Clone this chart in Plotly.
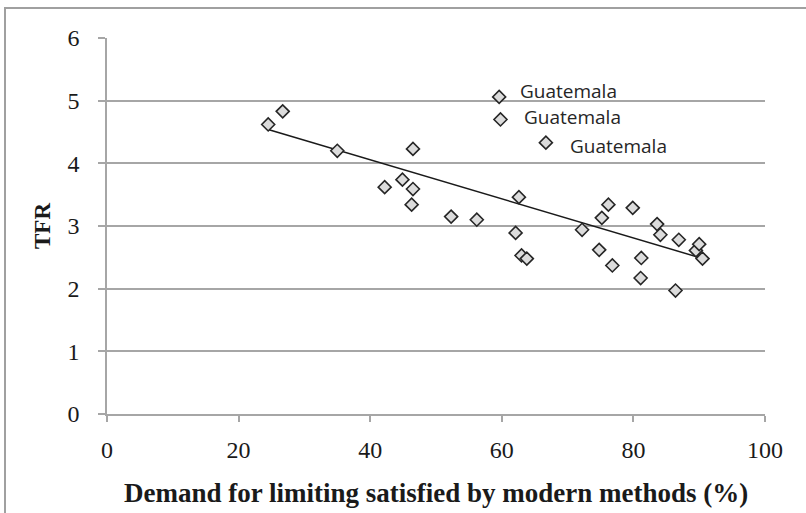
import numpy as np
import plotly.graph_objects as go

# Data
demand = [24.5, 26.7, 35.0, 42.2, 44.9, 46.5, 46.5, 46.3, 52.3, 56.2,
          59.6, 59.8, 66.7, 62.6, 62.1, 63.0, 63.8, 72.2, 74.8, 75.2,
          76.2, 76.8, 79.9, 81.1, 81.2, 83.6, 84.1, 86.4, 86.9, 89.5,
          90.0, 90.5]
tfr = [4.62, 4.83, 4.20, 3.62, 3.74, 4.23, 3.59, 3.34, 3.15, 3.10,
       5.06, 4.70, 4.33, 3.46, 2.89, 2.53, 2.48, 2.94, 2.62, 3.13,
       3.34, 2.37, 3.29, 2.17, 2.49, 3.03, 2.86, 1.97, 2.78, 2.61,
       2.71, 2.48]
labels = ["", "", "", "", "", "", "", "", "", "",
          "Guatemala", "Guatemala", "Guatemala", "", "", "", "", "", "", "",
          "", "", "", "", "", "", "", "", "", "", "", ""]
x_ticks = [0, 20, 40, 60, 80, 100]
y_ticks = [0, 1, 2, 3, 4, 5, 6]

# vertical pixel nudges for the three labels (style only)
label_yshift = {10: 6, 11: 2, 12: -3}
label_xshift = {10: 19, 11: 22, 12: 22}

x = np.array(demand)
y = np.array(tfr)
slope, intercept = np.polyfit(x, y, 1)
xl = np.array([x.min(), x.max()])
yl = slope * xl + intercept

fig = go.Figure()
fig.add_trace(go.Scatter(x=xl, y=yl, mode="lines",
                         line=dict(color="#1a1a1a", width=1.5),
                         hoverinfo="skip", showlegend=False))
fig.add_trace(go.Scatter(x=demand, y=tfr, mode="markers",
                         marker=dict(symbol="diamond", size=10, color="#dcdcdc",
                                     line=dict(color="#262626", width=1.6)),
                         showlegend=False))

for i, (xi, yi, lab) in enumerate(zip(demand, tfr, labels)):
    if lab:
        fig.add_annotation(x=xi, y=yi, text=lab, showarrow=False,
                           xanchor="left", yanchor="middle",
                           xshift=label_xshift.get(i, 20),
                           yshift=label_yshift.get(i, 0),
                           font=dict(family="Open Sans, sans-serif", size=19, color="#262626"))

serif = "Liberation Serif, Times New Roman, serif"
fig.update_layout(
    width=806, height=513,
    margin=dict(l=107, r=41, t=38, b=99),
    paper_bgcolor="white", plot_bgcolor="white",
    xaxis=dict(range=[0, 100], tickvals=x_ticks, showgrid=False, zeroline=False,
               showline=True, linecolor="#a6a6a6", linewidth=1.5,
               ticks="outside", ticklen=6, tickcolor="#a6a6a6", tickwidth=1.5,
               ticklabelstandoff=7,
               tickfont=dict(family=serif, size=24, color="#1a1a1a")),
    yaxis=dict(range=[0, 6], tickvals=y_ticks, showgrid=True, gridcolor="#a6a6a6",
               gridwidth=1.5, zeroline=False,
               showline=True, linecolor="#a6a6a6", linewidth=1.5,
               ticks="outside", ticklen=7, tickcolor="#a6a6a6", tickwidth=1.5,
               ticklabelstandoff=14,
               tickfont=dict(family=serif, size=24, color="#1a1a1a")),
    shapes=[dict(type="rect", xref="paper", yref="paper",
                 x0=(5 - 107) / 658, x1=(812 - 107) / 658,
                 y0=(414 - 520) / 376, y1=1 + (38 - 8) / 376,
                 line=dict(color="#a0a0a0", width=2), fillcolor="rgba(0,0,0,0)",
                 layer="below")],
)
fig.add_annotation(xref="paper", yref="paper", x=(436 - 107) / 658, y=(414 - 493) / 376,
                   text="<b>Demand for limiting satisfied by modern methods (%)</b>",
                   showarrow=False, xanchor="center", yanchor="middle",
                   font=dict(family=serif, size=27, color="#1a1a1a"))
fig.add_annotation(xref="paper", yref="paper", x=(42 - 107) / 658, y=0.5,
                   text="<b>TFR</b>", textangle=-90,
                   showarrow=False, xanchor="center", yanchor="middle",
                   font=dict(family=serif, size=23, color="#1a1a1a"))

fig.write_html("out.html")
